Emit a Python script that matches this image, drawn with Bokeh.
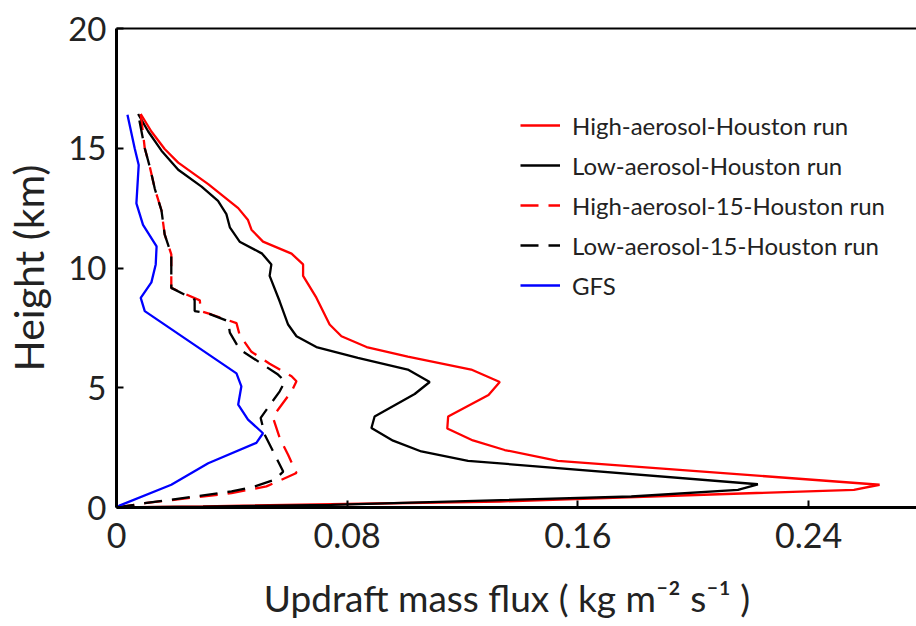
from bokeh.plotting import figure
from bokeh.models import Range1d, LinearAxis, FixedTicker, Legend, LegendItem
from bokeh.embed import file_html
from bokeh.resources import INLINE

# ---- data (height in km, updraft mass flux in kg m-2 s-1) ----
high_h = [0.0, 0.05, 0.25, 0.74, 0.95, 1.95, 2.4, 2.8, 3.3, 3.8, 4.7, 5.24, 5.76, 6.3, 6.7,
          7.15, 7.64, 8.76, 9.67, 10.15, 10.6, 11.1, 11.6, 12.0, 12.5, 13.5, 14.4, 14.97, 15.7, 16.43]
high_v = [0.0, 0.03, 0.133, 0.2557, 0.2646, 0.153, 0.1346, 0.1236, 0.1147, 0.115, 0.129, 0.1329,
          0.123, 0.101, 0.0867, 0.078, 0.0739, 0.0693, 0.0647, 0.0647, 0.0607, 0.0508, 0.0468,
          0.0456, 0.0422, 0.0318, 0.0214, 0.0167, 0.0121, 0.0084]

low_h = [0.0, 0.04, 0.11, 0.46, 0.74, 0.97, 1.95, 2.34, 2.79, 3.32, 3.8, 4.74, 5.24, 5.76, 6.25,
         6.7, 7.15, 7.64, 8.6, 9.67, 10.15, 10.6, 11.1, 11.7, 12.25, 12.8, 13.4, 14.1, 14.9, 15.7, 16.43]
low_v = [0.0, 0.03, 0.0745, 0.1785, 0.2155, 0.2224, 0.1219, 0.1057, 0.0959, 0.0884, 0.0895, 0.1034,
         0.1086, 0.101, 0.0837, 0.0693, 0.0624, 0.0595, 0.0566, 0.0531, 0.0537, 0.0505, 0.0427,
         0.0393, 0.0381, 0.0352, 0.0295, 0.0214, 0.0156, 0.011, 0.0075]

high15_h = [0.0, 0.18, 0.6, 0.88, 1.44, 2.2, 2.9, 3.74, 4.0, 4.85, 5.27, 5.48, 6.0, 6.5, 7.2, 7.7,
            8.06, 8.2, 8.65, 9.17, 9.6, 10.57, 11.4, 12.4, 13.3, 14.2, 15.0, 16.43]
high15_v = [0.0, 0.0098, 0.0399, 0.052, 0.0624, 0.0595, 0.0566, 0.0543, 0.0555, 0.0607, 0.0624,
            0.0607, 0.0531, 0.0468, 0.0427, 0.0416, 0.0329, 0.0292, 0.0289, 0.019, 0.019, 0.019,
            0.0167, 0.0156, 0.0133, 0.0116, 0.0098, 0.0084]

low15_h = [0.0, 0.18, 0.67, 0.88, 1.16, 1.5, 2.2, 3.04, 3.74, 3.88, 4.85, 5.27, 5.55, 6.1, 6.6,
           7.3, 7.78, 8.13, 8.2, 8.68, 9.17, 9.6, 10.57, 11.4, 12.4, 13.3, 14.2, 15.0, 16.43]
low15_v = [0.0, 0.0098, 0.0399, 0.048, 0.0549, 0.0578, 0.0549, 0.0514, 0.05, 0.0508, 0.0566,
           0.0584, 0.056, 0.0491, 0.0427, 0.0393, 0.0387, 0.0312, 0.0271, 0.0271, 0.019, 0.019,
           0.019, 0.0167, 0.0156, 0.0133, 0.0116, 0.0098, 0.0075]

gfs_h = [0.0, 0.08, 0.95, 1.85, 2.7, 3.1, 3.67, 4.3, 5.06, 5.6, 8.2, 8.75, 9.4, 10.15, 10.9,
         11.8, 12.7, 14.3, 15.0, 16.4]
gfs_v = [0.0, 0.001, 0.019, 0.0318, 0.0485, 0.0508, 0.0456, 0.0422, 0.0433, 0.0416, 0.0098,
         0.0084, 0.0121, 0.0136, 0.0139, 0.0092, 0.0069, 0.0077, 0.0063, 0.0038]

x_ticks = [0, 0.08, 0.16, 0.24]
y_ticks = [0, 5, 10, 15, 20]
labels = ["High-aerosol-Houston run", "Low-aerosol-Houston run",
          "High-aerosol-15-Houston run", "Low-aerosol-15-Houston run", "GFS"]

FONT = "Lato"

p = figure(width=916, height=626, output_backend="svg", toolbar_location=None,
           x_range=Range1d(0, 0.2774), y_range=Range1d(0, 20),
           min_border_left=116, min_border_right=0, min_border_top=28, min_border_bottom=119)
p.outline_line_color = None
p.xgrid.visible = False
p.ygrid.visible = False
p.background_fill_color = "white"
p.border_fill_color = "white"

r1 = p.line(high_v, high_h, line_color="#ff0000", line_width=2.3)
r2 = p.line(low_v, low_h, line_color="black", line_width=2.3)
r3 = p.line(high15_v, high15_h, line_color="#ff0000", line_width=2.3, line_dash="18 10")
r4 = p.line(low15_v, low15_h, line_color="black", line_width=2.3, line_dash="18 10")
r5 = p.line(gfs_v, gfs_h, line_color="#0000ff", line_width=2.3)

for ax in (p.xaxis[0], p.yaxis[0]):
    ax.axis_line_width = 3
    ax.axis_line_color = "black"
    ax.major_tick_in = 7
    ax.major_tick_out = 0
    ax.major_tick_line_width = 2
    ax.minor_tick_line_color = None
    ax.major_label_text_font = FONT
    ax.axis_label_text_font = FONT
    ax.axis_label_text_font_style = "normal"
    ax.major_label_text_color = "#222222"
    ax.axis_label_text_color = "#222222"

p.xaxis[0].ticker = FixedTicker(ticks=x_ticks)
p.yaxis[0].ticker = FixedTicker(ticks=y_ticks)
p.xaxis[0].major_label_overrides = {0: "0", 0.08: "0.08", 0.16: "0.16", 0.24: "0.24"}
p.xaxis[0].major_label_text_font_size = "34px"
p.yaxis[0].major_label_text_font_size = "33px"
p.xaxis[0].major_label_standoff = 15
p.yaxis[0].major_label_standoff = 10
p.xaxis[0].axis_label = "Updraft mass flux (  kg m\u207b\u00b2 s\u207b\u00b9  )"
p.yaxis[0].axis_label = "Height (km)"
p.xaxis[0].axis_label_text_font_size = "37px"
p.yaxis[0].axis_label_text_font_size = "41px"
p.xaxis[0].axis_label_standoff = 24
p.yaxis[0].axis_label_standoff = 12

top = LinearAxis(ticker=FixedTicker(ticks=[]), axis_line_width=2, major_tick_in=0, major_tick_out=0,
                 minor_tick_line_color=None, major_label_standoff=0)
p.add_layout(top, "above")

legend = Legend(items=[LegendItem(label=l, renderers=[r]) for l, r in zip(labels, [r1, r2, r3, r4, r5])],
                location=(404, 204), padding=0, margin=0, spacing=4,
                label_height=36, glyph_height=36, glyph_width=40, label_standoff=12,
                label_text_font=FONT, label_text_font_size="24px", label_text_color="#222222",
                border_line_color=None, background_fill_alpha=0)
p.add_layout(legend, "center")

open("out.html", "w").write(file_html(p, INLINE))
